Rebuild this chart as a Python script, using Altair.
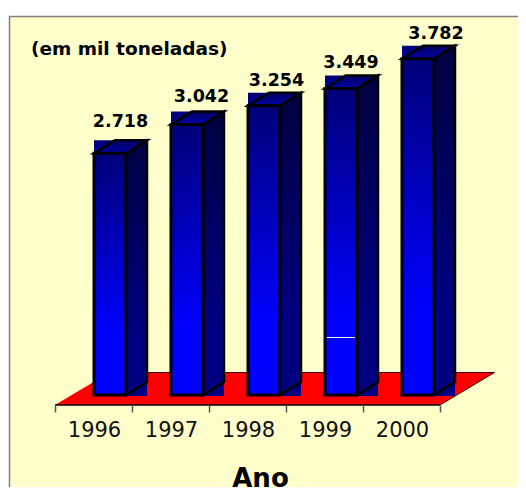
import altair as alt
import pandas as pd

# ---- data ----
years = [1996, 1997, 1998, 1999, 2000]
tons = [2718, 3042, 3254, 3449, 3782]
labels = ["2.718", "3.042", "3.254", "3.449", "3.782"]
label_lift_px = [26, 23, 20, 20, 20]
label_shift_px = [26.5, 30.5, 28.5, 26, 34]

# ---- geometry: x in category units, y in value units ----
PX_CAT = 77.0
PX_VAL = 0.0889
X0, Y0 = 55.0, 395.0
W, H = 510, 479
def dx(px): return px / PX_CAT
def dy(px): return px / PX_VAL
def ux(px): return (px - X0) / PX_CAT
def uy(px): return (Y0 - px) / PX_VAL

xs = alt.Scale(domain=[ux(8), ux(8 + W)], nice=False, zero=False)
ys = alt.Scale(domain=[uy(8 + H), uy(8)], nice=False, zero=False)

tick_vals = list(range(len(years) + 1))
label_expr = "datum.value < 5 ? '' + (1996 + datum.value) : ''"
AX = alt.Axis(
    orient="bottom", offset=-82, zindex=1, domain=False, grid=False, values=tick_vals,
    tickColor="#555555", tickSize=7, tickWidth=1.5,
    labelExpr=label_expr, labelOffset=39, labelFontSize=21, labelFont="DejaVu Sans",
    labelColor="#111111", labelPadding=7, labelFlush=False, labelOverlap=False,
    titleFont="DejaVu Sans", titleFontSize=26, titleFontWeight="bold", titleColor="black",
    titleX=252, titleY=81, titleBaseline="alphabetic", titleAnchor="middle")

X = lambda f="x": alt.X(f"{f}:Q", scale=xs, axis=AX, title="Ano")
Y = lambda f="y": alt.Y(f"{f}:Q", scale=ys, axis=None, title=None)

def grad(c1, c2, at=1.0):
    return alt.Gradient(gradient="linear", x1=0, x2=0, y1=0, y2=1,
                        stops=[alt.GradientStop(offset=0, color=c1),
                               alt.GradientStop(offset=at, color=c2),
                               alt.GradientStop(offset=1, color=c2)])

LEFT, RIGHT, BACK = dx(39), dx(71), dx(92)
RISE = dy(13)

# panel
panel = alt.Chart(pd.DataFrame([{"x": ux(9.5), "x2": ux(560), "y": uy(16.5), "y2": uy(540)}])).mark_rect(
    fill="#FFFFCC", stroke="#808080", strokeWidth=1.5, clip=True
).encode(x=X(), x2="x2:Q", y=Y(), y2="y2:Q")

# axis baseline
axis_df = pd.DataFrame({"x": [0, 5], "y": [uy(405)] * 2})
axis_layer = alt.Chart(axis_df).mark_line(color="black", strokeWidth=1.5).encode(x=X(), y=Y())

# floor
fl = pd.DataFrame([
    {"y": uy(405), "x": 0.0, "x2": 5.0},
    {"y": uy(372.5), "x": dx(54.5), "x2": 5.0 + dx(54.5)},
])
floor = alt.Chart(fl).mark_area(orient="horizontal", color="#FF0000", opacity=1).encode(
    y=Y(), x=X(), x2="x2:Q")
floor_edges = alt.Chart(pd.DataFrame({
    "x": [dx(54.5), 5.0 + dx(54.5), 5.0], "y": [uy(372.5), uy(372.5), uy(405)], "o": [0, 1, 2]
})).mark_line(color="#400000", strokeWidth=1).encode(x=X(), y=Y(), order="o:Q")

# bars
rows = {k: [] for k in ("back_top", "back_bot", "front", "side", "top")}
for i, v in enumerate(tons):
    xl, xr, xb = i + LEFT, i + RIGHT, i + BACK
    rows["back_top"].append({"x": xl, "x2": xb, "y": v + RISE, "y2": v - dy(2)})
    rows["back_bot"].append({"x": xr, "x2": xb, "y": RISE, "y2": dy(-1)})
    rows["front"].append({"x": xl, "x2": xr, "y": v, "y2": 0})
    rows["side"] += [{"b": i, "x": xr, "y": 0, "y2": v}, {"b": i, "x": xb, "y": RISE, "y2": v + RISE}]
    rows["top"] += [{"b": i, "y": v, "x": xl, "x2": xr}, {"b": i, "y": v + RISE, "x": xl + dx(21), "x2": xb}]

back_top = alt.Chart(pd.DataFrame(rows["back_top"])).mark_rect(fill=grad("#000070", "#0000B4")).encode(
    x=X(), x2="x2:Q", y=Y(), y2="y2:Q")
back_bot = alt.Chart(pd.DataFrame(rows["back_bot"])).mark_rect(fill="#000080").encode(
    x=X(), x2="x2:Q", y=Y(), y2="y2:Q")
side = alt.Chart(pd.DataFrame(rows["side"])).mark_area(
    fill=grad("#000040", "#000080", 0.75), stroke="black", strokeWidth=2.5, opacity=1).encode(
    x=X(), y=Y(), y2="y2:Q", detail="b:N")
top = alt.Chart(pd.DataFrame(rows["top"])).mark_area(
    orient="horizontal", fill=grad("#000060", "#0000A8"), stroke="black", strokeWidth=2.5, opacity=1).encode(
    y=Y(), x=X(), x2="x2:Q", detail="b:N")
front = alt.Chart(pd.DataFrame(rows["front"])).mark_rect(
    fill=grad("#000078", "#0000FF", 0.75), stroke="black", strokeWidth=3).encode(
    x=X(), x2="x2:Q", y=Y(), y2="y2:Q")

# the stray white line on the 1999 bar
glitch = alt.Chart(pd.DataFrame({"x": [3 + LEFT + dx(2)], "x2": [3 + RIGHT - dx(2)], "y": [uy(337.5)]})).mark_rule(
    color="white", strokeWidth=1).encode(x=X(), x2="x2:Q", y=Y())

# value labels
lab_df = pd.DataFrame({
    "x": [i + LEFT + dx(s) for i, s in enumerate(label_shift_px)],
    "y": [v + dy(l) for v, l in zip(tons, label_lift_px)],
    "t": labels,
})
value_text = alt.Chart(lab_df).mark_text(
    font="DejaVu Sans", fontWeight="bold", fontSize=17.5, color="black", baseline="alphabetic", align="center"
).encode(x=X(), y=Y(), text="t:N")

unit = alt.Chart(pd.DataFrame({"x": [ux(31)], "y": [uy(55)], "t": ["(em mil toneladas)"]})).mark_text(
    font="DejaVu Sans", fontWeight="bold", fontSize=18.5, color="black", baseline="alphabetic", align="left"
).encode(x=X(), y=Y(), text="t:N")

chart = alt.layer(panel, floor, floor_edges, axis_layer, back_top, back_bot, side, top, front, glitch,
                  value_text, unit).properties(
    width=W, height=H, padding=0, background="white"
).configure_view(stroke=None)

chart.save("out.html", embed_options={"renderer": "svg", "actions": False})
